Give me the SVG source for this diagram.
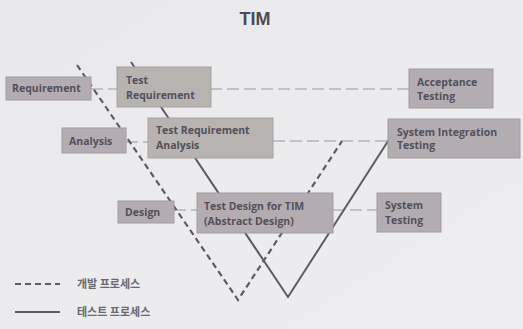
<svg xmlns="http://www.w3.org/2000/svg" width="523" height="329" viewBox="0 0 523 329">
<defs>
<linearGradient id="bg" x1="0" y1="0" x2="1" y2="1">
<stop offset="0" stop-color="#e9e9ec"/>
<stop offset="1" stop-color="#eeeef0"/>
</linearGradient>
</defs>
<style>
.box{fill:#b3adb1;stroke:#a29ca2;stroke-width:1}
.boxg{fill:#b6b3b0;stroke:#a5a2a0;stroke-width:1}
.t{font-family:"Open Sans","Liberation Sans",Arial,sans-serif;font-size:10.5px;font-weight:bold;fill:#54505a}
.lg{font-family:"Noto Sans CJK KR","Noto Sans",sans-serif;font-size:11px;font-weight:bold;fill:#6a6870}
.dev{fill:none;stroke:#5e5c62;stroke-width:2.2;stroke-dasharray:6,4}
.test{fill:none;stroke:#5e5c62;stroke-width:2}
.link{fill:none;stroke:#9a96a4;stroke-width:1;stroke-dasharray:12,5}
</style>
<rect width="523" height="329" fill="url(#bg)"/>
<text x="255" y="25" text-anchor="middle" font-family="Liberation Sans,Arial,sans-serif" font-size="18" font-weight="bold" fill="#4e4c52">TIM</text>
<g id="connectors">
<line class="link" x1="91" y1="89" x2="409" y2="89"/>
<line class="link" x1="126" y1="142" x2="148" y2="142"/>
<line class="link" x1="273" y1="141" x2="388" y2="141"/>
<line class="link" x1="174" y1="210" x2="197" y2="210"/>
<line class="link" x1="333" y1="210" x2="377" y2="210"/>
<polyline class="dev" points="77,65 238,300 342,141"/>
<polyline class="test" points="131,62 288,297 390,138"/>
</g>
<g id="requirement"><rect class="box" x="6" y="77" width="85" height="23"/><text class="t" x="12" y="92">Requirement</text></g>
<g id="test-requirement"><rect class="boxg" x="117" y="67" width="94" height="40"/><text class="t" x="126" y="84">Test</text><text class="t" x="126" y="99">Requirement</text></g>
<g id="acceptance-testing"><rect class="box" x="409" y="69" width="84" height="39"/><text class="t" x="417" y="86">Acceptance</text><text class="t" x="417" y="100">Testing</text></g>
<g id="analysis"><rect class="box" x="62" y="128" width="64" height="25"/><text class="t" x="69" y="145">Analysis</text></g>
<g id="test-requirement-analysis"><rect class="boxg" x="148" y="118" width="125" height="40"/><text class="t" x="156" y="134">Test Requirement</text><text class="t" x="156" y="149">Analysis</text></g>
<g id="system-integration-testing"><rect class="box" x="388" y="119" width="132" height="39"/><text class="t" x="397" y="136">System Integration</text><text class="t" x="397" y="149">Testing</text></g>
<g id="design"><rect class="box" x="118" y="201" width="56" height="22"/><text class="t" x="125" y="216">Design</text></g>
<g id="test-design"><rect class="box" x="197" y="193" width="136" height="40"/><text class="t" x="204" y="210">Test Design for TIM</text><text class="t" x="204" y="225">(Abstract Design)</text></g>
<g id="system-testing"><rect class="box" x="377" y="193" width="64" height="39"/><text class="t" x="385" y="209">System</text><text class="t" x="385" y="224">Testing</text></g>
<g id="legend">
<line class="dev" x1="15" y1="284" x2="60" y2="284" stroke-dasharray="8,4"/>
<text class="lg" x="77" y="288">개발 프로세스</text>
<line class="test" x1="15" y1="312" x2="60" y2="312"/>
<text class="lg" x="77" y="316">테스트 프로세스</text>
</g>
</svg>
